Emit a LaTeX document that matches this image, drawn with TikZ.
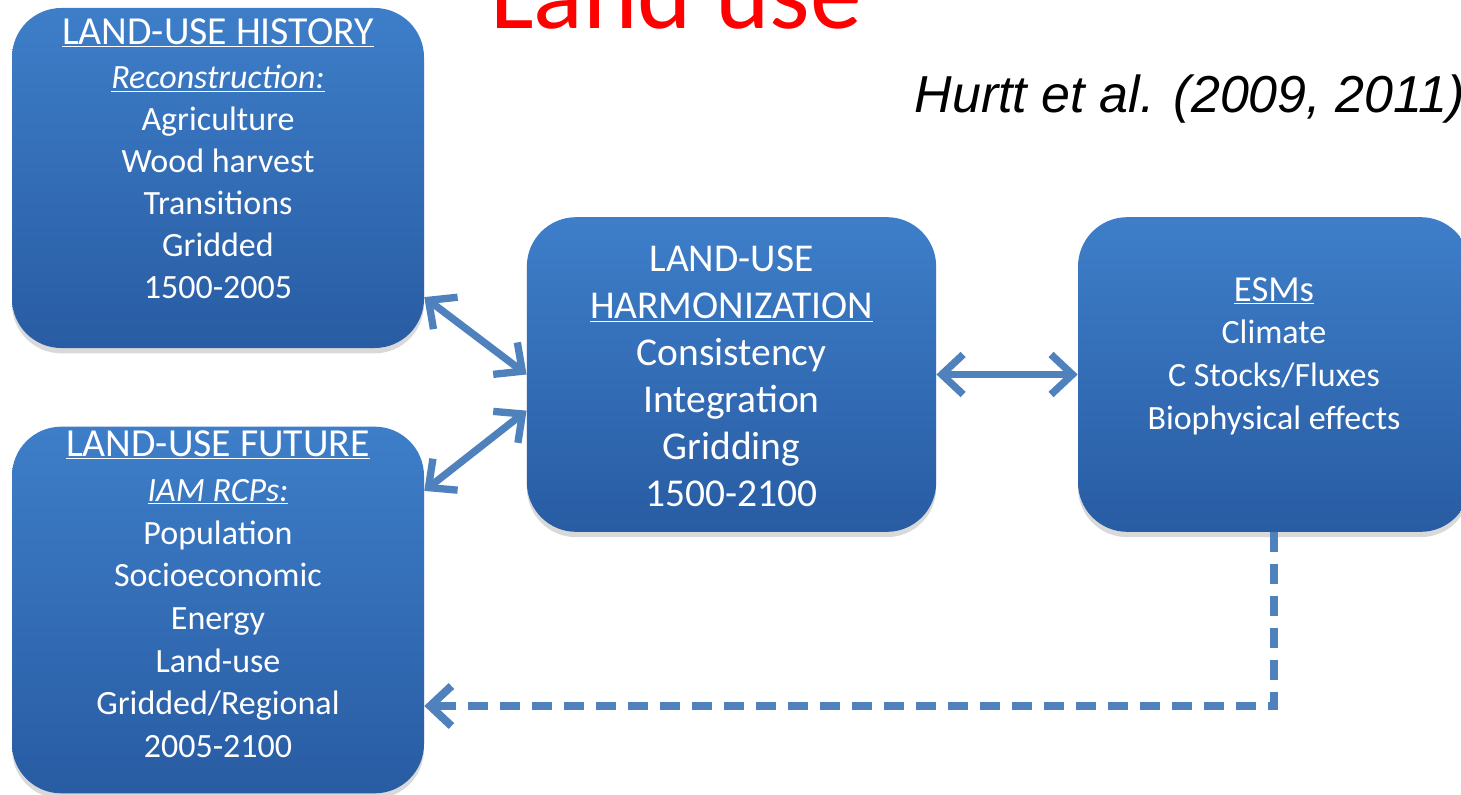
\documentclass[tikz,border=0pt]{standalone}
\usepackage{fontspec}
\setmainfont{Carlito}
\newfontfamily\arialfont{Liberation Sans}
\usetikzlibrary{positioning,arrows.meta,shadows}

\definecolor{boxtop}{RGB}{62,126,201}
\definecolor{boxbot}{RGB}{40,92,163}
\definecolor{linkblue}{RGB}{79,129,189}

\tikzset{
  panel/.style={rounded corners=37pt, top color=boxtop, bottom color=boxbot,
    inner sep=0pt, drop shadow={shadow xshift=0pt, shadow yshift=-4pt, opacity=0.3}},
  paneltext/.style={text=white, align=center, inner sep=0pt, anchor=north},
  barb/.tip={Straight Barb[length=16pt, width=30pt]},
  link/.style={draw=linkblue, line width=5.5pt, {barb}-{barb}},
  feedback/.style={draw=linkblue, line width=6pt, dash pattern=on 15pt off 9pt, -{barb}},
}

\begin{document}
\begin{tikzpicture}[x=0.75pt,y=0.75pt,yscale=-1,xscale=1]
\useasboundingbox (0,0) rectangle (1461,795);

% Title
\node[anchor=base, text=red, font=\fontsize{77.7}{90}\selectfont] (title) at (676,29) {Land use};
\node[anchor=base west, font=\arialfont\itshape\fontsize{39}{45}\selectfont] (cite) at (910,113) {Hurtt et al. (2009, 2011)};

% Text Node
\node[panel, minimum width=309pt, minimum height=255pt] (hist) at (218,178) {};
\node[paneltext, font=\fontsize{25.5}{31.5}\selectfont] (histtext) at (218,18)
  {{\fontsize{29.8}{31.5}\selectfont\underline{LAND-USE HISTORY}}\\[2pt]
   \underline{\itshape Reconstruction:}\\ Agriculture\\ Wood harvest\\ Transitions\\ Gridded\\ 1500-2005};
% Text Node
\node[panel, minimum width=309pt, minimum height=275pt] (future) at (218,610) {};
\node[paneltext, font=\fontsize{25.5}{32}\selectfont] (futuretext) at (218,430)
  {{\fontsize{29.8}{32}\selectfont\underline{LAND-USE FUTURE}}\\[2pt]
   \underline{\itshape IAM RCPs:}\\ Population\\ Socioeconomic\\ Energy\\ Land-use\\ Gridded/Regional\\ 2005-2100};
% Text Node
\node[panel, minimum width=307pt, minimum height=236pt] (harm) at (731.5,374.5) {};
\node[paneltext, font=\fontsize{29.6}{35.2}\selectfont] (harmtext) at (731.5,246)
  {LAND-USE\\ \underline{HARMONIZATION}\\ Consistency\\ Integration\\ Gridding\\ 1500-2100};
% Text Node
\node[panel, minimum width=294pt, minimum height=236pt] (esms) at (1274,374.5) {};
\node[paneltext, font=\fontsize{25.5}{32.2}\selectfont] (esmstext) at (1274,277)
  {{\fontsize{27.5}{32.2}\selectfont\underline{ESMs}}\\ Climate\\ C Stocks/Fluxes\\ Biophysical effects};

% Connection
\draw[link] (hist.-30) -- (harm.west);
% Connection
\draw[link] (future.30) -- (harm.190);
% Connection
\draw[link] (harm.east) -- (esms.west);
% Connection
\coordinate (turn) at (esms.south |- 0,706);
\draw[feedback] (esms.south) -- (turn) -- (turn -| future.east);

\end{tikzpicture}
\end{document}
